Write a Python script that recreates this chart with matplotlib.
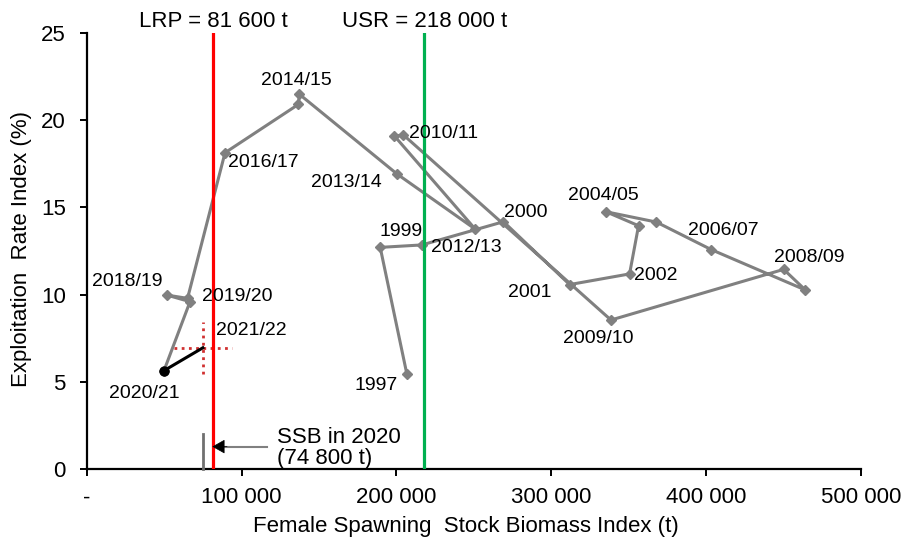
import matplotlib
matplotlib.use("Agg")
import matplotlib.pyplot as plt
from matplotlib.ticker import FixedLocator, FixedFormatter

plt.rcParams['font.family'] = ['Liberation Sans', 'DejaVu Sans']

# ---------------- data ----------------
years = ['1997', '1998', '1999', '2000', '2001', '2002', '2003', '2004/05', '2005/06',
         '2006/07', '2007/08', '2008/09', '2009/10', '2010/11', '2011/12', '2012/13',
         '2013/14', '2014/15', '2015/16', '2016/17', '2017/18', '2018/19', '2019/20',
         '2020/21']
ssb = [206700, 189500, 216400, 269100, 311800, 350500, 356300, 335300, 367800,
       403300, 464000, 450000, 338500, 204500, 198700, 250800,
       200400, 137300, 136700, 89300, 65100, 51700, 66700,
       49900]
er = [5.46, 12.71, 12.85, 14.18, 10.58, 11.19, 13.95, 14.75, 14.16,
      12.58, 10.27, 11.45, 8.55, 19.15, 19.09, 13.76,
      16.91, 21.48, 20.90, 18.13, 9.79, 9.98, 9.60,
      5.65]
labelled = ['1997', '1999', '2000', '2001', '2002', '2004/05', '2006/07', '2008/09',
            '2009/10', '2010/11', '2012/13', '2013/14', '2014/15', '2016/17',
            '2018/19', '2019/20', '2020/21']

proj_year = '2021/22'
proj_ssb = 75000
proj_er = 6.96
proj_ssb_err = 18500
proj_er_err = 1.5

lrp = 81600
usr = 218000
ssb_2020 = 74800

x_ticks = [0, 100000, 200000, 300000, 400000, 500000]
x_ticklabels = ['-', '100 000', '200 000', '300 000', '400 000', '500 000']
y_ticks = [0, 5, 10, 15, 20, 25]

# label offsets (pixels) relative to each point
label_offsets = {
    '1997': (-31, -12), '1999': (-21, 13), '2000': (22, 9), '2001': (-40, -8),
    '2002': (26, -2), '2004/05': (-3, 16), '2006/07': (12, 19), '2008/09': (26, 12),
    '2009/10': (-13, -18), '2010/11': (40, 1), '2012/13': (-9, -18),
    '2013/14': (-51, -8), '2014/15': (-3, 14), '2016/17': (38, -10),
    '2018/19': (-40, 14), '2019/20': (47, 5), '2020/21': (-20, -23),
    '2021/22': (48, 17),
}

# ---------------- figure ----------------
fig = plt.figure(figsize=(9.07, 5.5), dpi=100)
ax = fig.add_axes([0.0956, 0.1467, 0.8538, 0.7937])

gray = '#808080'
ax.plot(ssb, er, color=gray, lw=2.2, marker='D', markersize=5,
        markerfacecolor=gray, markeredgecolor=gray, zorder=3)
ax.plot([ssb[-1], proj_ssb], [er[-1], proj_er], color='black', lw=2.2, zorder=4)
ax.plot([ssb[-1]], [er[-1]], marker='o', color='black', markersize=6.5, zorder=5)

eb = ax.errorbar([proj_ssb], [proj_er], xerr=[proj_ssb_err], yerr=[proj_er_err],
                 fmt='none', ecolor='#D03030', elinewidth=2.0, capsize=0, zorder=2)
for lc in eb[2]:
    lc.set_linestyle((0, (1, 1.6)))

ax.axvline(lrp, color='#FF0000', lw=2.3, zorder=6)
ax.axvline(usr, color='#00B050', lw=2.3, zorder=6)
ax.text(lrp, 25.62, 'LRP = 81 600 t', ha='center', va='center', fontsize=16,
        clip_on=False)
ax.text(usr, 25.62, 'USR = 218 000 t', ha='center', va='center', fontsize=16,
        clip_on=False)

# year labels
for yr, xv, yv in zip(years, ssb, er):
    if yr in labelled:
        dx, dy = label_offsets[yr]
        ax.annotate(yr, (xv, yv), xytext=(dx, dy), textcoords='offset pixels',
                    ha='center', va='center', fontsize=14, zorder=7)
dx, dy = label_offsets[proj_year]
ax.annotate(proj_year, (proj_ssb, proj_er), xytext=(dx, dy), textcoords='offset pixels',
            ha='center', va='center', fontsize=14, zorder=7)

# SSB in 2020 marker and arrow
ax.plot([ssb_2020, ssb_2020], [0, 2.05], color='#707070', lw=2.0, zorder=5,
        clip_on=False)
ax.plot([116300, 86000], [1.3, 1.3], color=gray, lw=1.5, zorder=5)
ax.annotate('', xy=(lrp - 500, 1.3), xytext=(lrp + 9000, 1.3),
            arrowprops=dict(arrowstyle='-|>,head_length=0.8,head_width=0.45',
                            color='black', lw=0.5, shrinkA=0, shrinkB=0), zorder=7)
ax.text(123000, 1.22, 'SSB in 2020\n(74 800 t)', ha='left', va='center', fontsize=16,
        linespacing=1.05, zorder=7)

# axes
ax.set_xlim(0, 500000)
ax.set_ylim(0, 25)
ax.xaxis.set_major_locator(FixedLocator(x_ticks))
ax.xaxis.set_major_formatter(FixedFormatter(x_ticklabels))
ax.set_yticks(y_ticks)
for s in ['top', 'right']:
    ax.spines[s].set_visible(False)
for s in ['left', 'bottom']:
    ax.spines[s].set_linewidth(1.6)
    ax.spines[s].set_color('black')
ax.tick_params(axis='both', direction='out', length=5, width=1.4, labelsize=16,
               colors='black')
ax.tick_params(axis='y', pad=10)
ax.tick_params(axis='x', pad=8)

ax.set_xlabel('Female Spawning  Stock Biomass Index (t)', fontsize=16)
ax.set_ylabel('Exploitation  Rate Index (%)', fontsize=16)
ax.xaxis.label.set_va('center')
ax.yaxis.label.set_va('center')
ax.xaxis.set_label_coords(0.49, -0.132)
ax.yaxis.set_label_coords(-0.084, 0.505)

fig.savefig('out.png', dpi=100)
